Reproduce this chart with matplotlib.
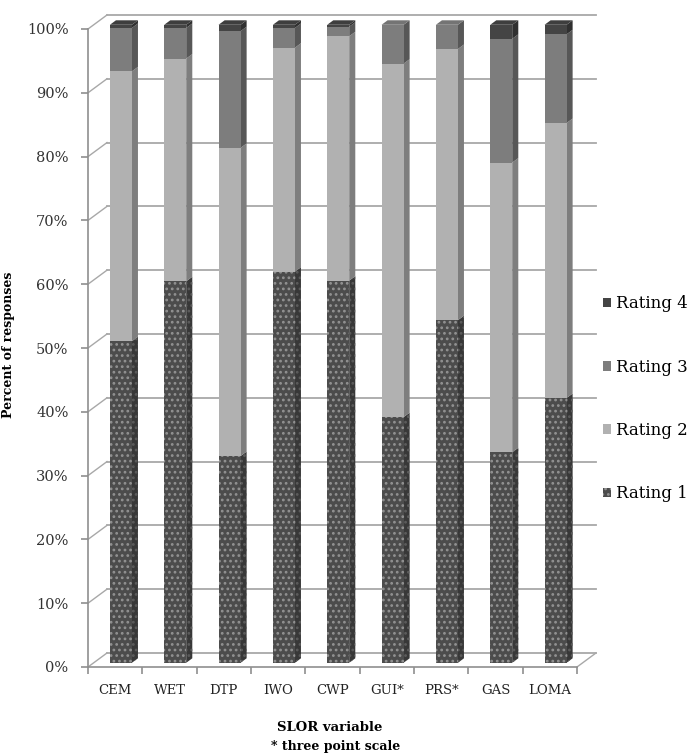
import numpy as np
import matplotlib
matplotlib.use("Agg")
import matplotlib.pyplot as plt
from matplotlib.patches import Polygon

# ---- data -------------------------------------------------------------
categories = ["CEM", "WET", "DTP", "IWO", "CWP", "GUI*", "PRS*", "GAS", "LOMA"]
rating1 = [50.4, 59.8, 32.4, 61.3, 59.9, 38.5, 53.7, 33.0, 41.5]
rating2 = [42.3, 34.9, 48.3, 35.1, 38.3, 55.4, 42.5, 45.4, 43.1]
rating3 = [6.8, 4.8, 18.3, 3.1, 1.5, 6.1, 3.8, 19.4, 13.9]
rating4 = [0.5, 0.5, 1.0, 0.5, 0.3, 0.0, 0.0, 2.2, 1.5]
series_names = ["Rating 1", "Rating 2", "Rating 3", "Rating 4"]
y_ticks = list(range(0, 101, 10))
y_ticklabels = [f"{v}%" for v in y_ticks]

# ---- style --------------------------------------------------------------
plt.rcParams["font.family"] = ["DejaVu Serif"]
plt.rcParams["hatch.linewidth"] = 1.2

front_col = ["#4c4c4c", "#b1b1b1", "#7d7d7d", "#444444"]
side_col = ["#383838", "#7e7e7e", "#575757", "#303030"]
top_col = ["#565656", "#a3a3a3", "#747474", "#3e3e3e"]
dot_col = ["#929292", None, None, None]
side_dot = ["#5c5c5c", None, None, None]
grid_col = "#a8a8a8"
axis_col = "#8f8f8f"

# pseudo-3D projection: depth d in [0, 1] shifts points right and up
DX, DY = 0.35, 2.2
D_FRONT, D_BACK = 0.30, 0.62
W = 0.405


def proj(x, y, d):
    return (x + DX * d, y + DY * d)


fig = plt.figure(figsize=(6.91, 7.53), dpi=100)
ax = fig.add_axes([88 / 691, (753 - 667) / 753, (577 - 88) / 691, (667 - 29) / 753])
ax.set_xlim(-0.5, 8.5)
ax.set_ylim(0, 100)
n = len(categories)
xs = np.arange(n)

# back wall gridlines, left wall diagonals and floor edge
for v in y_ticks:
    p0, p1 = proj(-0.5, v, 1), proj(n - 0.5, v, 1)
    ax.plot([p0[0], p1[0]], [p0[1], p1[1]], color=grid_col, lw=1.3,
            clip_on=False, zorder=1)
    q0, q1 = proj(-0.5, v, 0), proj(-0.5, v, 1)
    ax.plot([q0[0], q1[0]], [q0[1], q1[1]], color=grid_col, lw=1.0,
            clip_on=False, zorder=1)
f0, f1 = proj(n - 0.5, 0, 0), proj(n - 0.5, 0, 1)
ax.plot([f0[0], f1[0]], [f0[1], f1[1]], color=grid_col, lw=1.0,
        clip_on=False, zorder=1)

# stacked columns
series = [rating1, rating2, rating3, rating4]
bottoms = np.zeros(n)
x_front = xs + DX * D_FRONT
handles = []
for k, vals in enumerate(series):
    vals = np.asarray(vals, dtype=float)
    kw = dict(color=front_col[k], linewidth=0, zorder=3, clip_on=False)
    if dot_col[k]:
        kw.update(hatch="...", edgecolor=dot_col[k])
    bars = ax.bar(x_front, vals, width=W, bottom=bottoms + DY * D_FRONT,
                  label=series_names[k], **kw)
    handles.append(bars)
    # right side faces
    for i in range(n):
        if vals[i] <= 0:
            continue
        xr = xs[i] + W / 2
        b, t = bottoms[i], bottoms[i] + vals[i]
        pts = [proj(xr, b, D_FRONT), proj(xr, b, D_BACK),
               proj(xr, t, D_BACK), proj(xr, t, D_FRONT)]
        pkw = dict(facecolor=side_col[k], linewidth=0, zorder=2.9, clip_on=False)
        if side_dot[k]:
            pkw.update(hatch="...", edgecolor=side_dot[k])
        ax.add_patch(Polygon(pts, closed=True, **pkw))
    bottoms = bottoms + vals

# top faces coloured by the highest non-empty segment
for i in range(n):
    top_k = max(k for k in range(4) if series[k][i] > 0)
    t = bottoms[i]
    xl, xr = xs[i] - W / 2, xs[i] + W / 2
    pts = [proj(xl, t, D_FRONT), proj(xr, t, D_FRONT),
           proj(xr, t, D_BACK), proj(xl, t, D_BACK)]
    ax.add_patch(Polygon(pts, closed=True, facecolor=top_col[top_k],
                         linewidth=0, zorder=3.1, clip_on=False))

# axes
for s in ["top", "right"]:
    ax.spines[s].set_visible(False)
for s in ["left", "bottom"]:
    ax.spines[s].set_color(axis_col)
    ax.spines[s].set_linewidth(1.2)
ax.set_yticks(y_ticks)
ax.set_yticklabels(y_ticklabels, fontsize=10.5, color="#333333")
ax.tick_params(axis="y", length=5, width=1.2, color=axis_col, pad=9)
ax.set_xticks(np.arange(-0.5, n, 1))
ax.set_xticklabels([])
ax.tick_params(axis="x", which="major", length=5, width=1.2, color=axis_col)
ax.set_xticks(xs, minor=True)
ax.set_xticklabels(categories, minor=True, fontsize=9.5, color="#222222")
ax.tick_params(axis="x", which="minor", length=0, pad=12)

ax.set_ylabel("Percent of responses", fontsize=9, fontweight="bold")
ax.yaxis.set_label_coords(-0.149, 0.505)
ax.set_xlabel("SLOR variable", fontsize=9.5, fontweight="bold")
ax.xaxis.set_label_coords(0.495, -0.084)
ax.text(0.507, -0.125, "* three point scale", transform=ax.transAxes,
        ha="center", va="center", fontsize=9, fontweight="bold")

leg = ax.legend(handles=handles[::-1], loc="center left",
                bbox_to_anchor=(603 / 691, (753 - 399) / 753),
                bbox_transform=fig.transFigure, frameon=False, fontsize=12,
                handlelength=0.5, handleheight=0.5, handletextpad=0.3,
                labelspacing=2.78, borderpad=0, borderaxespad=0)

fig.savefig("out.png", dpi=100, facecolor="white")
